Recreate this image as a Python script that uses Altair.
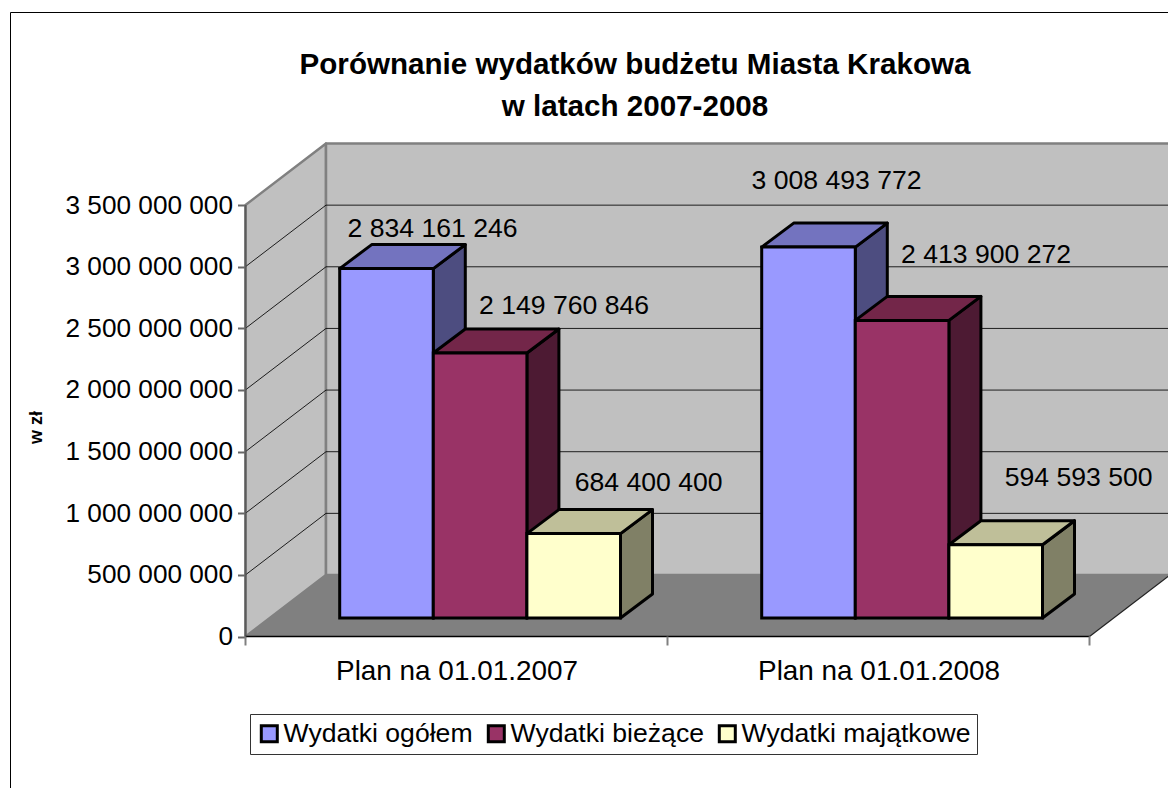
import altair as alt
import pandas as pd

# ---- data ----
categories = ["Plan na 01.01.2007", "Plan na 01.01.2008"]
series = ["Wydatki ogółem", "Wydatki bieżące", "Wydatki majątkowe"]
ogolem = [2834161246, 3008493772]
biezace = [2149760846, 2413900272]
majatkowe = [684400400, 594593500]
y_ticks = [0, 500000000, 1000000000, 1500000000, 2000000000, 2500000000, 3000000000, 3500000000]
series_values = [ogolem, biezace, majatkowe]

# ---- styles ----
front_colors = ["#9999FF", "#993366", "#FFFFCC"]
top_colors = ["#7373BF", "#732649", "#BFBF99"]
side_colors = ["#4D4D80", "#4D1A33", "#808066"]
FONT = "Liberation Sans"

# ---- chart geometry: scale set-up (one category = 422 px, axis = 431.5 px) ----
W, H = 1160, 780
PX_X, PX_Y = 422.0, 431.5 / 3.5e9     # px per category, px per value unit
X0, Y0 = 245.5 - 8, 636.5 - 8         # where (0, 0) sits inside the plot
xs = alt.Scale(domain=[-X0 / PX_X, (W - X0) / PX_X], range=[0, W], nice=False, zero=False)
ys = alt.Scale(domain=[(Y0 - H) / PX_Y, Y0 / PX_Y], range=[H, 0], nice=False, zero=False)


def dxu(px):
    return px / PX_X


def dyu(px):
    return px / PX_Y


WALL_DX, WALL_DY = dxu(80.5), dyu(61.5)
BAR_DX, BAR_DY = dxu(32), dyu(24)
BAR_START, BAR_W = dxu(94.2), dxu(93.6)
BAR_BASE = dyu(18.5)
TOP = y_ticks[-1]


def side_face(out, name, fill, x, y_low, y_high, dx, dy):
    out.append(dict(face=name, fill=fill, x=x, y=y_high, y2=y_low))
    out.append(dict(face=name, fill=fill, x=x + dx, y=y_high + dy, y2=y_low + dy))


def flat_face(out, name, fill, x1, x2, y, dx, dy):
    out.append(dict(face=name, fill=fill, x=x1, y=y, y2=y))
    out.append(dict(face=name, fill=fill, x=x1 + dx, y=y + dy, y2=y))
    out.append(dict(face=name, fill=fill, x=x2, y=y + dy, y2=y))
    out.append(dict(face=name, fill=fill, x=x2 + dx, y=y + dy, y2=y + dy))


walls = []
side_face(walls, "a_left", "#C0C0C0", 0, 0, TOP, WALL_DX, WALL_DY)
walls.append(dict(face="b_back", fill="#C0C0C0", x=WALL_DX, y=TOP + WALL_DY, y2=WALL_DY))
walls.append(dict(face="b_back", fill="#C0C0C0", x=2 + WALL_DX, y=TOP + WALL_DY, y2=WALL_DY))

floor = []
flat_face(floor, "c_floor", "#808080", 0, 2, 0, WALL_DX, WALL_DY)

boxes = []
fronts = []
labels = []
# label centres relative to the middle of the bar's front top edge, in px
nudges = [[(46, -40), (28, -66)], [(84, -47), (84, -65)], [(75, -51), (83, -67)]]
for s, vals in enumerate(series_values):
    for c, v in enumerate(vals):
        x1 = c + BAR_START + s * BAR_W
        x2 = x1 + BAR_W
        # the bar's front stands on the floor, raised by BAR_BASE; its height is the value
        yb, yt = BAR_BASE, BAR_BASE + v
        side_face(boxes, f"{s}{c}_side", side_colors[s], x2, yb, yt, BAR_DX, BAR_DY)
        flat_face(boxes, f"{s}{c}_top", top_colors[s], x1, x2, yt, BAR_DX, BAR_DY)
        fronts.append(dict(series=series[s], x=x1, x2=x2, y=yt, y2=yb))
        nx, ny = nudges[s][c]
        labels.append(dict(text=f"{v:,}".replace(",", " "),
                           x=(x1 + x2) / 2 + dxu(nx), y=yt + dyu(-ny)))

grid_rows = []
for t in y_ticks[1:-1]:
    grid_rows += [dict(g=f"{t}b", x=WALL_DX, y=t + WALL_DY), dict(g=f"{t}b", x=2 + WALL_DX, y=t + WALL_DY)]
    grid_rows += [dict(g=f"{t}l", x=0, y=t), dict(g=f"{t}l", x=WALL_DX, y=t + WALL_DY)]
grid = pd.DataFrame(grid_rows)

edge_right = pd.DataFrame([dict(x=2, y=0), dict(x=2 + WALL_DX, y=WALL_DY)])

# real axes, moved in to the front edge of the floor
cat_expr = "datum.value < 1 ? '%s' : '%s'" % (categories[0], categories[1])
x_axis = alt.Axis(
    values=[0.5, 1.5], labelExpr=cat_expr, offset=-(H - Y0), domain=False, ticks=False, grid=False,
    labelFont=FONT, labelFontSize=27.9, labelColor="#000000", labelPadding=21, labelOverlap=False,
    labelFlush=False, labelBound=False, labelLimit=600,
)
y_axis = alt.Axis(
    values=y_ticks, labelExpr="replace(format(datum.value, ',d'), regexp(',', 'g'), ' ')",
    offset=-X0, domain=False, grid=False, tickColor="#666666", tickWidth=2, tickSize=8,
    labelFont=FONT, labelFontSize=26.2, labelColor="#000000", labelPadding=5, labelOverlap=False,
    labelFlush=False, labelBound=False,
    titleFont=FONT, titleFontSize=18, titleFontWeight="bold", titleColor="#000000",
    titleAngle=270, titleX=36 - 245.5, titleY=427 - 8, titleAlign="center", titleBaseline="middle",
)
X = alt.X("x:Q", scale=xs, axis=x_axis, title=None)
Y = alt.Y("y:Q", scale=ys, axis=y_axis, title="w zł", stack=None)


def faces(rows_, **mark):
    return alt.Chart(pd.DataFrame(rows_)).mark_area(**mark).encode(
        x=X, y=Y, y2="y2:Q",
        fill=alt.Fill("fill:N", scale=None),
        detail="face:N",
    )


wall_layer = faces(walls, stroke="#808080", strokeWidth=2.5, strokeJoin="round", interpolate="linear")
floor_layer = faces(floor, interpolate="linear")
grid_layer = alt.Chart(grid).mark_line(color="#000000", strokeWidth=1, opacity=0.85).encode(x=X, y=Y, detail="g:N")
edge_layer = alt.Chart(edge_right).mark_line(color="#222222", strokeWidth=1.2).encode(x=X, y=Y)

# axis lines and ticks that carry the 3-D frame
left_line = alt.Chart(pd.DataFrame([dict(x=0, y=0, y2=TOP)])).mark_rule(color="#5A5A5A", strokeWidth=2).encode(x=X, y=Y, y2="y2:Q")
base_line = alt.Chart(pd.DataFrame([dict(x=0, x2=2, y=0)])).mark_rule(color="#000000", strokeWidth=1.5).encode(x=X, x2="x2:Q", y=Y)
x_ticks = alt.Chart(pd.DataFrame([dict(x=i, y=0, y2=dyu(-9)) for i in range(3)])).mark_rule(color="#808080", strokeWidth=2).encode(x=X, y=Y, y2="y2:Q")

box_layer = faces(boxes, stroke="#000000", strokeWidth=3, strokeJoin="round", interpolate="linear")

front_layer = alt.Chart(pd.DataFrame(fronts)).mark_rect(stroke="#000000", strokeWidth=3).encode(
    x=X, x2="x2:Q", y=Y, y2="y2:Q",
    color=alt.Color(
        "series:N",
        scale=alt.Scale(domain=series, range=front_colors),
        legend=alt.Legend(
            title=None, orient="none", legendX=250 - 8, legendY=714 - 8,
            direction="horizontal", columns=3, symbolType="square", symbolSize=256,
            symbolStrokeColor="#000000", symbolStrokeWidth=3, symbolOpacity=1,
            labelFont=FONT, labelFontSize=26.6, labelColor="#000000", labelLimit=400,
            labelOffset=1, columnPadding=9, padding=6,
            fillColor="#FFFFFF", strokeColor="#333333",
        ),
    ),
)

label_layer = alt.Chart(pd.DataFrame(labels)).mark_text(
    font=FONT, fontSize=26.6, color="#000000", align="center", baseline="middle"
).encode(x=X, y=Y, text="text:N")

border_left = alt.Chart(pd.DataFrame([{"a": 0}])).mark_rule(color="#000000", strokeWidth=1).encode(
    x=alt.value(2.5), y=alt.value(4.5), y2=alt.value(H))
border_top = alt.Chart(pd.DataFrame([{"a": 0}])).mark_rule(color="#000000", strokeWidth=1).encode(
    x=alt.value(2.5), x2=alt.value(W), y=alt.value(4.5))

chart = alt.layer(
    border_left, border_top, wall_layer, floor_layer, grid_layer, edge_layer, left_line, base_line, x_ticks,
    box_layer, front_layer, label_layer,
).properties(
    width=W, height=H, padding=0, autosize=alt.AutoSizeParams(type="none"),
    title=alt.TitleParams(
        text=["Porównanie wydatków budżetu Miasta Krakowa", "w latach 2007-2008"],
        font=FONT, fontSize=29.6, fontWeight="bold", color="#000000", anchor="middle",
        lineHeight=42, dx=47, dy=115, offset=0,
    ),
).configure_view(stroke=None)

chart.save("out.html", embed_options={"renderer": "svg", "actions": False})
